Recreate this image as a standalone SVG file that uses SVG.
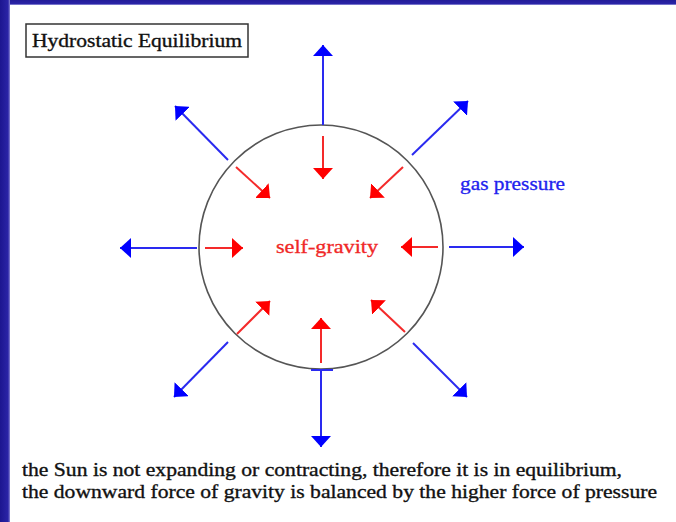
<svg xmlns="http://www.w3.org/2000/svg" width="676" height="522" viewBox="0 0 676 522">
<defs>
<style>
.serif{font-family:"Liberation Serif","DejaVu Serif",serif}
.blue{stroke:#2a2af0;stroke-width:2;fill:none}
.red{stroke:#f42a2a;stroke-width:2;fill:none}
.dark{fill:#111111;stroke:#111111;stroke-width:0.35}
</style>
<marker id="hb" viewBox="0 0 11 20" refX="11" refY="10" markerWidth="11" markerHeight="20" markerUnits="userSpaceOnUse" orient="auto"><path d="M0,0 L11,10 L0,20 z" fill="#0000ff"/></marker>
<marker id="hr" viewBox="0 0 11 20" refX="11" refY="10" markerWidth="11" markerHeight="20" markerUnits="userSpaceOnUse" orient="auto"><path d="M0,0 L11,10 L0,20 z" fill="#ff0000"/></marker>
<linearGradient id="topg" x1="0" y1="0" x2="0" y2="1"><stop offset="0" stop-color="#231c98"/><stop offset="0.7" stop-color="#2a24a6"/><stop offset="1" stop-color="#9a98dc"/></linearGradient>
<linearGradient id="leftg" x1="0" y1="0" x2="1" y2="0"><stop offset="0" stop-color="#1c1690"/><stop offset="0.8" stop-color="#2a24a6"/><stop offset="1" stop-color="#8a88d4"/></linearGradient>
</defs>
<rect x="0" y="0" width="676" height="522" fill="#ffffff"/>
<rect x="0" y="0" width="676" height="5" fill="url(#topg)"/>
<rect x="0" y="0" width="10" height="522" fill="url(#leftg)"/>
<g id="title">
<rect x="26" y="24" width="222" height="33" fill="#ffffff" stroke="#333333" stroke-width="1.5"/>
<text class="serif dark" x="32" y="47" font-size="19" textLength="210" lengthAdjust="spacingAndGlyphs">Hydrostatic Equilibrium</text>
</g>
<g id="sun">
<circle cx="321" cy="247" r="122" fill="none" stroke="#555555" stroke-width="1.6"/>
</g>
<g id="connectors">
<line class="blue" x1="323" y1="125" x2="323" y2="45" marker-end="url(#hb)"/>
<line class="blue" x1="228" y1="160" x2="175" y2="106" marker-end="url(#hb)"/>
<line class="blue" x1="412" y1="155" x2="468" y2="101" marker-end="url(#hb)"/>
<line class="blue" x1="197" y1="248" x2="120" y2="248" marker-end="url(#hb)"/>
<line class="blue" x1="449" y1="247" x2="524" y2="247" marker-end="url(#hb)"/>
<line class="blue" x1="228" y1="342" x2="174" y2="397" marker-end="url(#hb)"/>
<line class="blue" x1="413" y1="343" x2="467" y2="397" marker-end="url(#hb)"/>
<line class="blue" x1="321" y1="370" x2="321" y2="447" marker-end="url(#hb)"/>
<line class="blue" x1="311" y1="370" x2="333" y2="370"/>
<line class="red" x1="323" y1="136" x2="323" y2="179" marker-end="url(#hr)"/>
<line class="red" x1="236" y1="167" x2="270" y2="198" marker-end="url(#hr)"/>
<line class="red" x1="403" y1="167" x2="370" y2="198" marker-end="url(#hr)"/>
<line class="red" x1="205" y1="248" x2="243" y2="248" marker-end="url(#hr)"/>
<line class="red" x1="438" y1="247" x2="401" y2="247" marker-end="url(#hr)"/>
<line class="red" x1="237" y1="334" x2="270" y2="301" marker-end="url(#hr)"/>
<line class="red" x1="321" y1="363" x2="321" y2="318" marker-end="url(#hr)"/>
<line class="red" x1="405" y1="332" x2="371" y2="300" marker-end="url(#hr)"/>
</g>
<g id="labels">
<text class="serif" x="276" y="253" font-size="18" fill="#f02828" stroke="#f02828" stroke-width="0.3" textLength="102" lengthAdjust="spacingAndGlyphs">self-gravity</text>
<text class="serif" x="460" y="190" font-size="18" fill="#2222ee" stroke="#2222ee" stroke-width="0.3" textLength="105" lengthAdjust="spacingAndGlyphs">gas pressure</text>
</g>
<g id="caption">
<text class="serif dark" x="22" y="476" font-size="19" textLength="600" lengthAdjust="spacingAndGlyphs">the Sun is not expanding or contracting, therefore it is in equilibrium,</text>
<text class="serif dark" x="22" y="498" font-size="19" textLength="635" lengthAdjust="spacingAndGlyphs">the downward force of gravity is balanced by the higher force of pressure</text>
</g>
</svg>
